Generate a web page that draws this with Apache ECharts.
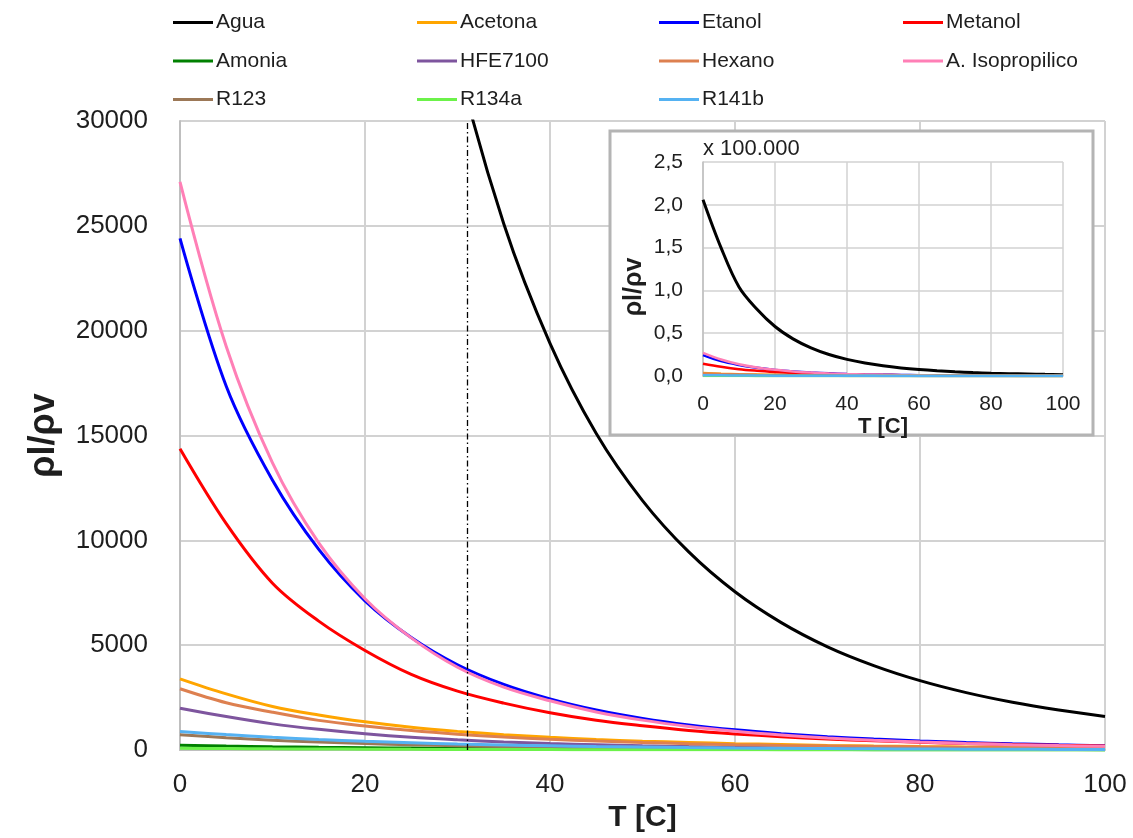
<!DOCTYPE html>
<html>
<head>
<meta charset="utf-8">
<script src="https://cdn.jsdelivr.net/npm/echarts@6/dist/echarts.min.js"></script>
<style>
  html, body { margin: 0; padding: 0; background: #fff; }
  #chart { width: 1133px; height: 838px; }
</style>
</head>
<body>
<div id="chart"></div>
<script>
// Temperature [C]
const temps = [0, 5, 10, 15, 20, 25, 30, 35, 40, 45, 50, 55, 60, 65, 70, 75, 80, 85, 90, 95, 100];

// Liquid / vapour density ratio for each fluid
const agua      = [206000, 150000, 104000, 78000, 57800, 43400, 32900, 25100, 19400, 15100, 11900, 9450, 7550, 6080, 4925, 4030, 3311, 2740, 2280, 1910, 1603];
const acetona   = [3400, 2680, 2080, 1675, 1349, 1088, 893, 737, 609, 505, 427, 364, 308, 264, 224, 193, 168, 148, 129, 113, 98];
const etanol    = [24400, 17350, 12870, 9570, 7120, 5370, 4070, 3130, 2440, 1910, 1510, 1200, 965, 785, 638, 525, 433, 360, 301, 252, 213];
const metanol   = [14370, 10800, 7960, 6150, 4750, 3610, 2810, 2240, 1780, 1420, 1160, 940, 773, 640, 531, 445, 372, 315, 266, 228, 196];
const amonia    = [230, 192, 160, 135, 114, 97, 83, 71, 60, 52, 44, 38, 33, 29, 25, 22, 19, 16, 14, 12, 10];
const hfe7100   = [2000, 1600, 1250, 990, 778, 610, 490, 390, 314, 255, 206, 168, 138, 114, 94, 79, 66, 56, 47, 40, 34];
const hexano    = [2925, 2258, 1806, 1418, 1150, 933, 760, 623, 519, 432, 364, 307, 261, 223, 193, 167, 144, 126, 110, 96, 85];
const isopropil = [27100, 19250, 13700, 9880, 7220, 5350, 3950, 3000, 2350, 1820, 1430, 1130, 900, 720, 580, 470, 385, 315, 260, 215, 180];
const r123      = [730, 590, 475, 385, 310, 252, 206, 170, 142, 118, 99, 85, 74, 64, 55, 48, 42, 36, 31, 27, 24];
const r134a     = [90, 75, 62, 52, 44, 37, 32, 27, 23, 19, 17, 14, 12, 10, 8.6, 7.2, 5.8, 4.7, 3.6, 2.7, 1.5];
const r141b     = [885, 740, 610, 505, 420, 350, 290, 245, 205, 172, 145, 121, 100, 85, 72, 61, 52, 44, 38, 32, 27];

// Critical temperature marker [C]
const markerT = 31;

// Axis tick settings
const mainXTicks = { min: 0, max: 100, interval: 20 };
const mainYTicks = { min: 0, max: 30000, interval: 5000 };
const insetYTicks = { min: 0, max: 250000, interval: 50000 };
const insetScaleText = 'x 100.000';

const fluids = [
  { name: 'Agua',            data: agua,      color: '#000000' },
  { name: 'Acetona',         data: acetona,   color: '#ffa500' },
  { name: 'Etanol',          data: etanol,    color: '#0000ff' },
  { name: 'Metanol',         data: metanol,   color: '#ff0000' },
  { name: 'Amonia',          data: amonia,    color: '#008000' },
  { name: 'HFE7100',         data: hfe7100,   color: '#7e559e' },
  { name: 'Hexano',          data: hexano,    color: '#dd8050' },
  { name: 'A. Isopropilico', data: isopropil, color: '#ff7fb6' },
  { name: 'R123',            data: r123,      color: '#9c7857' },
  { name: 'R134a',           data: r134a,     color: '#6cf24a' },
  { name: 'R141b',           data: r141b,     color: '#55b2f2' }
];

const FONT = "'Liberation Sans', Arial, sans-serif";
const TXT = '#1e1e1e';
const GRID_COLOR = '#d2d2d2';

function pairs(values) {
  return temps.map((t, i) => [t, values[i]]);
}

const series = [];
fluids.forEach((f, idx) => {
  const s = {
    name: f.name,
    type: 'line',
    xAxisIndex: 0,
    yAxisIndex: 0,
    data: pairs(f.data),
    showSymbol: false,
    smooth: 0.35,
    clip: true,
    color: f.color,
    lineStyle: { color: f.color, width: 3 },
    z: 2
  };
  if (idx === 0) {
    s.markLine = {
      silent: true,
      symbol: ['none', 'none'],
      label: { show: false },
      lineStyle: { color: '#000', width: 1.3, type: [6, 3, 1.5, 3] },
      data: [{ xAxis: markerT }]
    };
  }
  series.push(s);
});
fluids.forEach((f) => {
  series.push({
    name: f.name,
    type: 'line',
    xAxisIndex: 1,
    yAxisIndex: 1,
    data: pairs(f.data),
    showSymbol: false,
    smooth: 0.35,
    silent: true,
    color: f.color,
    lineStyle: { color: f.color, width: f.name === 'Agua' ? 3 : 2.5 },
    z: 40
  });
});

// Legend laid out in four columns
const legendCols = [
  { left: 168, names: ['Agua', 'Amonia', 'R123'] },
  { left: 412, names: ['Acetona', 'HFE7100', 'R134a'] },
  { left: 654, names: ['Etanol', 'Hexano', 'R141b'] },
  { left: 898, names: ['Metanol', 'A. Isopropilico'] }
];
const legends = legendCols.map(c => ({
  orient: 'vertical',
  left: c.left,
  top: 7,
  itemGap: 17.5,
  itemWidth: 40,
  itemHeight: 3,
  icon: 'rect',
  selectedMode: false,
  data: c.names,
  textStyle: { fontFamily: FONT, fontSize: 21, color: TXT, lineHeight: 21, padding: [0, 0, 0, -2] }
}));

const chart = echarts.init(document.getElementById('chart'), null, { renderer: 'canvas' });
chart.setOption({
  backgroundColor: '#ffffff',
  animation: false,
  legend: legends,
  grid: [
    { left: 180, top: 121, width: 925, height: 644 },
    { left: 703, top: 162, width: 360, height: 214 }
  ],
  xAxis: [
    {
      gridIndex: 0, type: 'value', min: mainXTicks.min, max: mainXTicks.max, interval: mainXTicks.interval,
      name: 'T [C]', nameLocation: 'middle', nameGap: 45,
      nameTextStyle: { fontFamily: FONT, fontSize: 30, fontWeight: 'bold', color: TXT },
      axisLine: { show: true, lineStyle: { color: '#bfbfbf', width: 2 } },
      axisTick: { show: false },
      axisLabel: { fontFamily: FONT, fontSize: 26, color: TXT, margin: 22 },
      splitLine: { show: true, lineStyle: { color: GRID_COLOR, width: 2 } }
    },
    {
      gridIndex: 1, type: 'value', min: mainXTicks.min, max: mainXTicks.max, interval: mainXTicks.interval,
      name: 'T [C]', nameLocation: 'middle', nameGap: 25, z: 30,
      nameTextStyle: { fontFamily: FONT, fontSize: 22, fontWeight: 'bold', color: TXT },
      axisLine: { show: true, lineStyle: { color: '#bfbfbf', width: 1.5 } },
      axisTick: { show: false },
      axisLabel: { fontFamily: FONT, fontSize: 21, color: TXT, margin: 18 },
      splitLine: { show: true, lineStyle: { color: GRID_COLOR, width: 1.5 } }
    }
  ],
  yAxis: [
    {
      gridIndex: 0, type: 'value', min: mainYTicks.min, max: mainYTicks.max, interval: mainYTicks.interval,
      name: 'ρl/ρv', nameLocation: 'middle', nameGap: 118,
      nameTextStyle: { fontFamily: FONT, fontSize: 36, fontWeight: 'bold', color: TXT },
      axisLine: { show: true, lineStyle: { color: '#bfbfbf', width: 2 } },
      axisTick: { show: false },
      axisLabel: { fontFamily: FONT, fontSize: 26, color: TXT, margin: 32, formatter: v => String(v) },
      splitLine: { show: true, lineStyle: { color: GRID_COLOR, width: 2 } }
    },
    {
      gridIndex: 1, type: 'value', min: insetYTicks.min, max: insetYTicks.max, interval: insetYTicks.interval,
      name: 'ρl/ρv', nameLocation: 'middle', nameGap: 56, z: 30,
      nameTextStyle: { fontFamily: FONT, fontSize: 25, fontWeight: 'bold', color: TXT, padding: [0, 36, 0, 0] },
      axisLine: { show: true, lineStyle: { color: '#bfbfbf', width: 1.5 } },
      axisTick: { show: false },
      axisLabel: {
        fontFamily: FONT, fontSize: 21, color: TXT, margin: 20,
        formatter: v => (v / 100000).toFixed(1).replace('.', ',')
      },
      splitLine: { show: true, lineStyle: { color: GRID_COLOR, width: 1.5 } }
    }
  ],
  graphic: [
    {
      type: 'rect', z: 10, silent: true,
      shape: { x: 610, y: 131, width: 483, height: 304 },
      style: { fill: '#ffffff', stroke: '#b4b4b4', lineWidth: 3 }
    },
    {
      type: 'text', z: 50, silent: true, left: 703, top: 138,
      style: { text: insetScaleText, font: '22px ' + FONT, fill: TXT }
    }
  ],
  series: series
});
</script>
</body>
</html>
